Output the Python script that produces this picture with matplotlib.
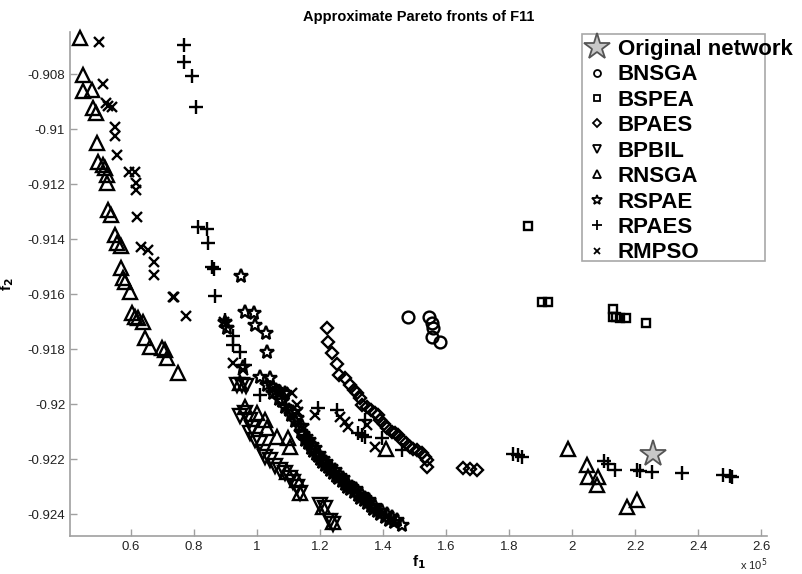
import matplotlib
matplotlib.use("Agg")
import matplotlib.pyplot as plt
from matplotlib.lines import Line2D
from matplotlib.patches import Rectangle
from matplotlib.ticker import FuncFormatter

plt.rcParams['font.family'] = ['Liberation Sans', 'DejaVu Sans']

# f1 in units of 1e5, f2 as is
orig_f1 = [2.257]
orig_f2 = [-0.92182]

bnsga_f1 = [1.479, 1.546, 1.556, 1.559, 1.556, 1.581]
bnsga_f2 = [-0.91684, -0.91684, -0.91705, -0.91724, -0.91756, -0.91775]

bspea_f1 = [1.860, 1.905, 1.924, 2.130, 2.130, 2.140, 2.152, 2.171, 2.235]
bspea_f2 = [-0.91353, -0.91629, -0.91629, -0.91655, -0.91684, -0.91684, -0.91687, -0.91687, -0.91705]

bpaes_f1 = [1.222, 1.225, 1.238, 1.254, 1.260, 1.279, 1.295, 1.308, 1.317, 1.327,
            1.333, 1.349, 1.362, 1.375, 1.384, 1.390, 1.403, 1.413, 1.429, 1.438,
            1.448, 1.460, 1.473, 1.486, 1.495, 1.508, 1.524, 1.533, 1.540, 1.540,
            1.654, 1.676, 1.698]
bpaes_f2 = [-0.91724, -0.91775, -0.91814, -0.91854, -0.91895, -0.91906, -0.91931, -0.91949, -0.91960, -0.91978,
            -0.92004, -0.92011, -0.92022, -0.92033, -0.92040, -0.92058, -0.92073, -0.92087, -0.92102, -0.92105,
            -0.92113, -0.92131, -0.92142, -0.92156, -0.92164, -0.92167, -0.92178, -0.92193, -0.92204, -0.92229,
            -0.92233, -0.92236, -0.92240]

bpbil_f1 = [0.937, 0.952, 0.965, 0.946, 0.962, 0.978, 0.984, 0.978, 0.994, 1.010,
            1.019, 1.025, 1.041, 1.057, 1.073, 1.089, 1.105, 1.114, 1.127, 1.137,
            1.200, 1.216, 1.232, 1.241]
bpbil_f2 = [-0.91931, -0.91931, -0.91934, -0.92044, -0.92033, -0.92058, -0.92087, -0.92105, -0.92131, -0.92142,
            -0.92174, -0.92193, -0.92204, -0.92225, -0.92240, -0.92251, -0.92269, -0.92284, -0.92302, -0.92324,
            -0.92367, -0.92378, -0.92425, -0.92436]

rnsga_f1 = [0.438, 0.448, 0.448, 0.476, 0.479, 0.489, 0.492, 0.495, 0.511, 0.517,
            0.524, 0.524, 0.527, 0.537, 0.549, 0.556, 0.568, 0.568, 0.575, 0.581,
            0.597, 0.603, 0.613, 0.622, 0.638, 0.644, 0.660, 0.698, 0.708, 0.714,
            0.749,
            0.946, 0.962, 1.000, 1.025, 1.032, 1.063, 1.098, 1.105, 1.095, 1.127,
            1.137, 1.209, 1.241, 1.410,
            1.987, 2.048, 2.051, 2.083, 2.080, 2.175, 2.206]
rnsga_f2 = [-0.90669, -0.90804, -0.90862, -0.90858, -0.90924, -0.90942, -0.91051, -0.91120, -0.91131, -0.91142,
            -0.91167, -0.91196, -0.91295, -0.91313, -0.91386, -0.91415, -0.91426, -0.91505, -0.91542, -0.91556,
            -0.91593, -0.91669, -0.91684, -0.91687, -0.91702, -0.91760, -0.91793, -0.91796, -0.91804, -0.91833,
            -0.91887,
            -0.91924, -0.92011, -0.92033, -0.92058, -0.92087, -0.92120, -0.92124, -0.92156, -0.92247, -0.92276,
            -0.92324, -0.92375, -0.92429, -0.92164,
            -0.92164, -0.92222, -0.92266, -0.92266, -0.92295, -0.92375, -0.92349]

rspae_f1 = [0.898, 0.905, 0.949, 0.956, 0.962, 0.990, 0.994, 1.029, 1.032, 1.010,
            1.041, 1.051, 1.073, 1.089,
            1.030, 1.050, 1.060, 1.070, 1.080, 1.090,
            1.100, 1.108, 1.115, 1.120, 1.127, 1.133, 1.138, 1.142, 1.147, 1.152,
            1.156, 1.160, 1.165, 1.170, 1.174, 1.178, 1.183, 1.187, 1.192, 1.196,
            1.201, 1.206, 1.210, 1.215, 1.220, 1.225, 1.230, 1.236, 1.241, 1.246,
            1.251, 1.257, 1.262, 1.268, 1.273, 1.279, 1.284, 1.290, 1.296, 1.302,
            1.308, 1.314, 1.320, 1.326, 1.332, 1.338, 1.344, 1.350, 1.356, 1.362,
            1.368, 1.375, 1.382, 1.390, 1.398, 1.405, 1.412, 1.420, 1.428, 1.436,
            1.445, 1.460]
rspae_f2 = [-0.91702, -0.91723, -0.91535, -0.91865, -0.91665, -0.91669, -0.91713, -0.91742, -0.91811, -0.91902,
            -0.91905, -0.91938, -0.91956, -0.91960,
            -0.9193, -0.9196, -0.9195, -0.9198, -0.9199, -0.9201,
            -0.9202, -0.9204, -0.9203, -0.9206, -0.9205, -0.9208, -0.9210, -0.9208, -0.9211, -0.9213,
            -0.9212, -0.9214, -0.9213, -0.9216, -0.9215, -0.9217, -0.9216, -0.9218, -0.9219, -0.9218,
            -0.9220, -0.9221, -0.9220, -0.9222, -0.9221, -0.9223, -0.9224, -0.9223, -0.9225, -0.9224,
            -0.9226, -0.9227, -0.9226, -0.9228, -0.9227, -0.9229, -0.9230, -0.9229, -0.9231, -0.9230,
            -0.9232, -0.9231, -0.9233, -0.9234, -0.9233, -0.9235, -0.9234, -0.9236, -0.9235, -0.9237,
            -0.9238, -0.9237, -0.9239, -0.9240, -0.9239, -0.9241, -0.9240, -0.9242, -0.9241, -0.9243,
            -0.9242, -0.9244]

rpaes_f1 = [0.768, 0.768, 0.794, 0.806, 0.813, 0.841, 0.844, 0.857, 0.863, 0.867,
            0.898, 0.902, 0.924, 0.924, 0.946, 0.962, 1.010,
            1.194, 1.254, 1.321, 1.333, 1.343, 1.343, 1.397, 1.460,
            1.813, 1.829, 1.841, 2.102, 2.114, 2.137, 2.206, 2.216, 2.254, 2.349,
            2.479, 2.502, 2.508]
rpaes_f2 = [-0.90695, -0.90756, -0.90807, -0.90920, -0.91356, -0.91364, -0.91415, -0.91502, -0.91509, -0.91607,
            -0.91695, -0.91716, -0.91753, -0.91785, -0.91811, -0.91858, -0.91967,
            -0.92015, -0.92022, -0.92105, -0.92113, -0.92120, -0.92058, -0.92124, -0.92167,
            -0.92182, -0.92186, -0.92193, -0.92207, -0.92218, -0.92240, -0.92240, -0.92244, -0.92247, -0.92251,
            -0.92258, -0.92262, -0.92266]

rmpso_f1 = [0.498, 0.511, 0.521, 0.527, 0.540, 0.549, 0.549, 0.556, 0.594, 0.613,
            0.616, 0.616, 0.619, 0.632, 0.654, 0.673, 0.673, 0.733, 0.737, 0.775,
            0.895, 0.924, 0.956, 1.051, 1.083, 1.111, 1.127, 1.130, 1.184, 1.264,
            1.279, 1.289, 1.349, 1.375]
rmpso_f2 = [-0.90684, -0.90836, -0.90905, -0.90916, -0.90920, -0.90993, -0.91025, -0.91094, -0.91156, -0.91156,
            -0.91196, -0.91222, -0.91320, -0.91429, -0.91440, -0.91484, -0.91531, -0.91611, -0.91611, -0.91680,
            -0.91702, -0.91851, -0.91876, -0.91949, -0.91956, -0.91960, -0.92004, -0.92029, -0.92040, -0.92047,
            -0.92065, -0.92084, -0.92076, -0.92156]

series = [
    ("BNSGA", bnsga_f1, bnsga_f2, 'o', 8.5, 5),
    ("BSPEA", bspea_f1, bspea_f2, 's', 6, 4.5),
    ("BPAES", bpaes_f1, bpaes_f2, 'D', 6.5, 4.5),
    ("BPBIL", bpbil_f1, bpbil_f2, 'v', 10.5, 6),
    ("RNSGA", rnsga_f1, rnsga_f2, '^', 10.5, 6),
    ("RSPAE", rspae_f1, rspae_f2, '*', 10.5, 7),
    ("RPAES", rpaes_f1, rpaes_f2, '+', 10, 7),
    ("RMPSO", rmpso_f1, rmpso_f2, 'x', 6.5, 4.5),
]

fig = plt.figure(figsize=(8.03, 5.74), dpi=100)
ax = fig.add_axes([0.0872, 0.0662, 0.868, 0.878])

for name, xs, ys, mk, ms, lms in series:
    ax.plot(xs, ys, ls='none', marker=mk, ms=ms, mfc='none', mec='k', mew=1.7, clip_on=False)

ax.plot(orig_f1, orig_f2, ls='none', marker='*', ms=20, mfc='#c8c8c8', mec='#555555', mew=1.3, zorder=5)

ax.set_xlim(0.406, 2.619)
ax.set_ylim(-0.9248, -0.90647)
ax.set_xticks([0.6, 0.8, 1.0, 1.2, 1.4, 1.6, 1.8, 2.0, 2.2, 2.4, 2.6])
ax.set_yticks([-0.924, -0.922, -0.92, -0.918, -0.916, -0.914, -0.912, -0.91, -0.908])
ax.xaxis.set_major_formatter(FuncFormatter(lambda v, p: '%g' % round(v, 3)))
ax.yaxis.set_major_formatter(FuncFormatter(lambda v, p: '%g' % round(v, 4)))

for s in ['top', 'right']:
    ax.spines[s].set_visible(False)
for s in ['left', 'bottom']:
    ax.spines[s].set_color('#a0a0a0')
    ax.spines[s].set_linewidth(1.2)
ax.tick_params(direction='in', length=5, width=1, color='#a0a0a0', labelsize=9.5, labelcolor='#222222')

ax.set_title("Approximate Pareto fronts of F11", fontsize=10.5, fontweight='bold', pad=8)
ax.set_xlabel("f$_\\mathbf{1}$", fontsize=11, fontweight='bold', labelpad=0)
ax.set_ylabel("f$_\\mathbf{2}$", fontsize=11, fontweight='bold', labelpad=8)
ax.text(1.0, -0.040, "x 10$^5$", transform=ax.transAxes, ha='right', va='top', fontsize=8, color='#222222')

# legend box (drawn separately, text spills over it as in the original)
box = Rectangle((582 / 803, 1 - 261 / 574), (765 - 582) / 803, (261 - 34) / 574,
                transform=fig.transFigure, facecolor='white', edgecolor='#a8a8a8', lw=1.2,
                zorder=9, clip_on=False)
ax.add_artist(box)

handles = [Line2D([], [], ls='none', marker='*', ms=20, mfc='#c8c8c8', mec='#555555', mew=1.3)]
labels = ["Original network"]
for name, xs, ys, mk, ms, lms in series:
    handles.append(Line2D([], [], ls='none', marker=mk, ms=lms, mfc='none', mec='k', mew=1.3))
    labels.append(name)
leg = ax.legend(handles, labels, loc='upper left', bbox_to_anchor=(0.727, 1.004),
                frameon=False, prop={'size': 16, 'weight': 'bold'},
                handlelength=1.0, handletextpad=0.45, labelspacing=0.2, borderaxespad=0)
leg.set_zorder(10)

fig.savefig("out.png", dpi=100)
